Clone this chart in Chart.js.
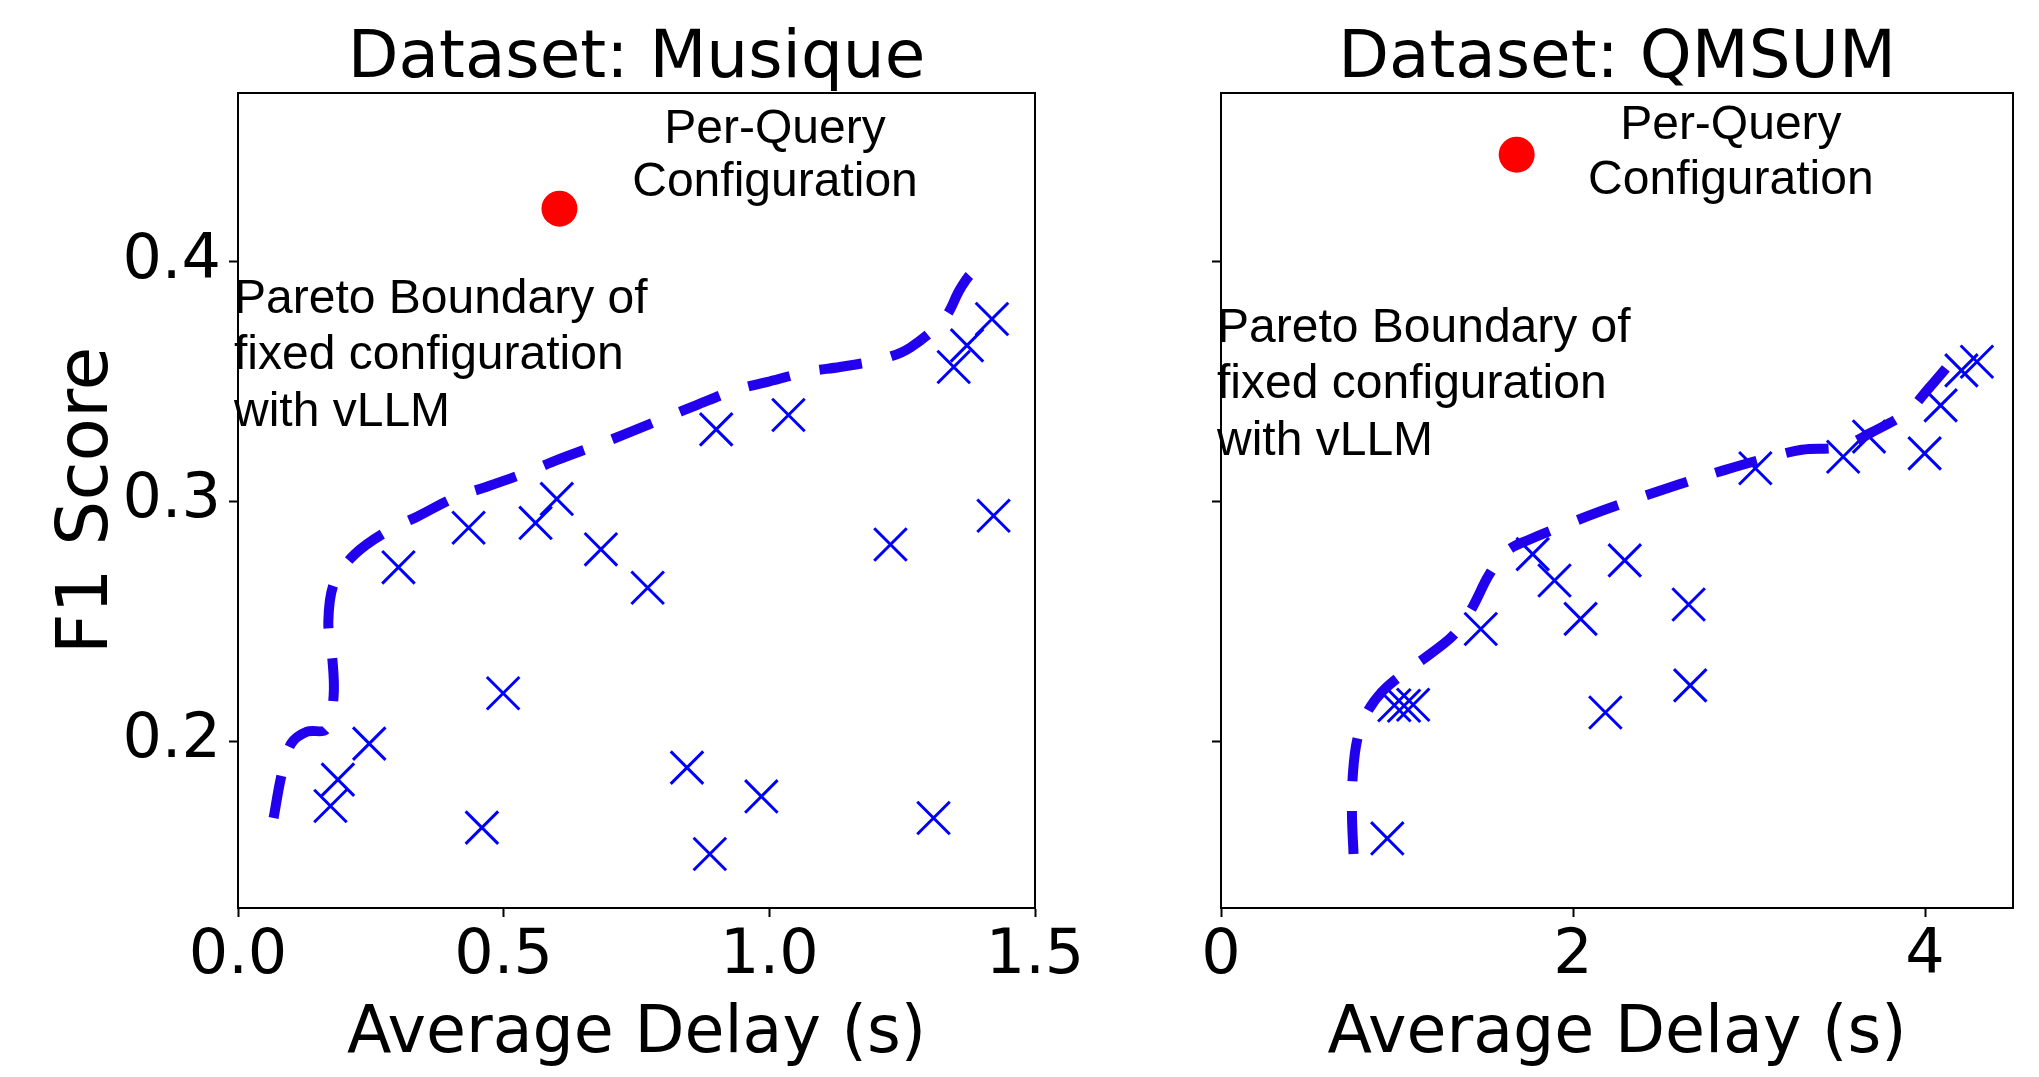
<!DOCTYPE html>
<html>
<head>
<meta charset="utf-8">
<script src="https://cdn.jsdelivr.net/npm/chart.js@4.4.0/dist/chart.umd.min.js"></script>
<style>
  body { margin: 0; background: #fff; }
  #wrap { position: relative; width: 2039px; height: 1077px; background: #fff; }
  #wrap canvas { position: absolute; top: 0; }
  #chartMusique { left: 0; }
  #chartQmsum { left: 1130px; }
</style>
</head>
<body>
<div id="wrap">
  <canvas id="chartMusique" width="1130" height="1077"></canvas>
  <canvas id="chartQmsum" width="909" height="1077"></canvas>
</div>
<script>
// ---- Musique ----
const musiqueFixedX = [0.174, 0.188, 0.247, 0.302, 0.434, 0.459, 0.499, 0.560, 0.600, 0.683, 0.771,
                       0.845, 0.888, 0.900, 0.985, 1.036, 1.228, 1.309, 1.347, 1.372, 1.419, 1.422];
const musiqueFixedY = [0.173, 0.184, 0.199, 0.2725, 0.289, 0.164, 0.220, 0.291, 0.301, 0.280, 0.264,
                       0.189, 0.153, 0.330, 0.177, 0.336, 0.282, 0.168, 0.356, 0.365, 0.376, 0.294];
const musiqueParetoX = [0.067, 0.082, 0.100, 0.130, 0.166, 0.180, 0.177, 0.170, 0.181, 0.220, 0.284,
                        0.338, 0.408, 0.467, 0.546, 0.600, 0.674, 0.733, 0.807, 0.862, 0.935, 0.995,
                        1.074, 1.133, 1.212, 1.266, 1.330, 1.360, 1.385, 1.404];
const musiqueParetoY = [0.168, 0.186, 0.199, 0.204, 0.205, 0.219, 0.236, 0.250, 0.266, 0.278, 0.288,
                        0.2937, 0.3016, 0.306, 0.3123, 0.3172, 0.3233, 0.3284, 0.3351, 0.340, 0.3463, 0.3497,
                        0.3541, 0.356, 0.3593, 0.3642, 0.3765, 0.3888, 0.3955, 0.3922];
const musiquePerQueryX = [0.605];
const musiquePerQueryY = [0.422];
const musiqueXTicks = [0, 0.5, 1.0, 1.5];
const musiqueXLabels = ['0.0', '0.5', '1.0', '1.5'];

// ---- QMSUM ----
const qmsumFixedX = [0.945, 0.985, 1.040, 1.092, 1.476, 1.771, 1.895, 2.043, 2.184, 2.294, 2.657,
                     2.666, 3.036, 3.535, 3.682, 3.998, 4.089, 4.207, 4.295];
const qmsumFixedY = [0.1595, 0.215, 0.2148, 0.2152, 0.2468, 0.278, 0.267, 0.251, 0.212, 0.2754, 0.257,
                     0.2233, 0.3138, 0.3186, 0.327, 0.320, 0.340, 0.3546, 0.3582];
const qmsumParetoX = [0.753, 0.744, 0.750, 0.775, 0.830, 0.920, 1.050, 1.200, 1.330, 1.430, 1.520,
                      1.620, 1.750, 1.950, 2.200, 2.600, 2.860, 3.100, 3.300, 3.520, 3.690, 3.900,
                      4.020, 4.160];
const qmsumParetoY = [0.153, 0.170, 0.187, 0.201, 0.212, 0.221, 0.229, 0.237, 0.245, 0.256, 0.269,
                      0.279, 0.284, 0.290, 0.297, 0.307, 0.313, 0.318, 0.3215, 0.3227, 0.3285, 0.3373,
                      0.347, 0.359];
const qmsumPerQueryX = [1.680];
const qmsumPerQueryY = [0.4445];
const qmsumXTicks = [0, 2, 4];
const qmsumXLabels = ['0', '2', '4'];

const yTicks = [0.2, 0.3, 0.4];
const yLabels = ['0.2', '0.3', '0.4'];

const FONT = 'DejaVu Sans';
const NOTE_FONT = 'Liberation Sans';

function zip(xs, ys) {
  return xs.map((x, i) => ({ x: x, y: ys[i] }));
}

// cadre noir + textes placés en coordonnées de données
const annotPlugin = {
  id: 'annot',
  afterDraw(chart, args, opts) {
    const ctx = chart.ctx;
    const a = chart.chartArea;
    ctx.save();
    ctx.strokeStyle = '#000';
    ctx.lineWidth = 2;
    ctx.strokeRect(a.left, a.top, a.right - a.left, a.bottom - a.top);
    ctx.fillStyle = '#000';
    ctx.font = opts.size + 'px "' + NOTE_FONT + '"';
    ctx.textBaseline = 'middle';
    (opts.notes || []).forEach(n => {
      ctx.textAlign = n.align;
      ctx.fillText(n.text, chart.scales.x.getPixelForValue(n.x), chart.scales.y.getPixelForValue(n.y));
    });
    ctx.restore();
  }
};

function makeChart(id, cfg) {
  return new Chart(document.getElementById(id), {
    type: 'scatter',
    data: {
      datasets: [
        {
          label: 'Per-Query Configuration',
          data: zip(cfg.dotX, cfg.dotY),
          pointStyle: 'circle',
          pointRadius: 18,
          pointBackgroundColor: '#ff0000',
          pointBorderWidth: 0,
          order: 0
        },
        {
          label: 'Pareto Boundary',
          data: zip(cfg.paretoX, cfg.paretoY),
          showLine: true,
          pointRadius: 0,
          borderColor: '#2200ee',
          borderWidth: 10,
          borderDash: [43, 30],
          borderCapStyle: 'butt',
          tension: 0.35,
          order: 1
        },
        {
          label: 'Fixed configuration',
          data: zip(cfg.fixedX, cfg.fixedY),
          pointStyle: 'crossRot',
          pointRadius: 23,
          pointBorderColor: '#0000ff',
          pointBorderWidth: 3,
          order: 2
        }
      ]
    },
    options: {
      responsive: false,
      animation: false,
      layout: { padding: { left: 0, right: cfg.padRight, top: 0, bottom: 0 } },
      plugins: {
        legend: { display: false },
        tooltip: { enabled: false },
        title: {
          display: true,
          text: cfg.title,
          fullSize: false,
          color: '#000',
          font: { family: FONT, size: 66, weight: 'normal', lineHeight: 1 },
          padding: { top: 27, bottom: 0 }
        },
        annot: { notes: cfg.notes, size: 48 }
      },
      scales: {
        x: {
          type: 'linear',
          min: cfg.xMin,
          max: cfg.xMax,
          afterBuildTicks: s => { s.ticks = cfg.xTicks.map(v => ({ value: v })); },
          afterFit: s => { s.height = 169; },
          ticks: {
            color: '#000',
            padding: 3,
            maxRotation: 0,
            font: { family: FONT, size: 62 },
            callback: (v, i) => cfg.xLabels[i]
          },
          grid: { drawOnChartArea: false, drawTicks: true, tickLength: 9, tickWidth: 2, tickColor: '#000' },
          border: { display: true, color: '#000', width: 2 },
          title: {
            display: true,
            text: 'Average Delay (s)',
            color: '#000',
            font: { family: FONT, size: 65 },
            padding: { top: 0, bottom: 3 }
          }
        },
        y: {
          type: 'linear',
          min: 0.1305,
          max: 0.4702,
          afterBuildTicks: s => { s.ticks = yTicks.map(v => ({ value: v })); },
          afterFit: s => { s.width = cfg.yWidth; },
          ticks: {
            display: cfg.showY,
            color: '#000',
            padding: 8,
            font: { family: FONT, size: 62 },
            callback: (v, i) => yLabels[i]
          },
          grid: { drawOnChartArea: false, drawTicks: true, tickLength: 9, tickWidth: 2, tickColor: '#000' },
          border: { display: true, color: '#000', width: 2 },
          title: {
            display: cfg.showY,
            text: 'F1 Score',
            color: '#000',
            font: { family: FONT, size: 71 },
            padding: { top: 46, bottom: 0 }
          }
        }
      }
    },
    plugins: [annotPlugin]
  });
}

makeChart('chartMusique', {
  title: 'Dataset: Musique',
  fixedX: musiqueFixedX, fixedY: musiqueFixedY,
  paretoX: musiqueParetoX, paretoY: musiqueParetoY,
  dotX: musiquePerQueryX, dotY: musiquePerQueryY,
  xMin: 0, xMax: 1.5,
  xTicks: musiqueXTicks, xLabels: musiqueXLabels,
  yWidth: 238, padRight: 95, showY: true,
  notes: [
    { text: 'Per-Query', x: 1.0107, y: 0.4547, align: 'center' },
    { text: 'Configuration', x: 1.0107, y: 0.4327, align: 'center' },
    { text: 'Pareto Boundary of', x: -0.0075, y: 0.3839, align: 'left' },
    { text: 'fixed configuration', x: -0.0075, y: 0.3606, align: 'left' },
    { text: 'with vLLM', x: -0.0075, y: 0.3369, align: 'left' }
  ]
});

makeChart('chartQmsum', {
  title: 'Dataset: QMSUM',
  fixedX: qmsumFixedX, fixedY: qmsumFixedY,
  paretoX: qmsumParetoX, paretoY: qmsumParetoY,
  dotX: qmsumPerQueryX, dotY: qmsumPerQueryY,
  xMin: 0, xMax: 4.5,
  xTicks: qmsumXTicks, xLabels: qmsumXLabels,
  yWidth: 91, padRight: 22, showY: false,
  notes: [
    { text: 'Per-Query', x: 2.897, y: 0.4564, align: 'center' },
    { text: 'Configuration', x: 2.897, y: 0.4335, align: 'center' },
    { text: 'Pareto Boundary of', x: -0.0226, y: 0.3719, align: 'left' },
    { text: 'fixed configuration', x: -0.0226, y: 0.3485, align: 'left' },
    { text: 'with vLLM', x: -0.0226, y: 0.3248, align: 'left' }
  ]
});
</script>
</body>
</html>
